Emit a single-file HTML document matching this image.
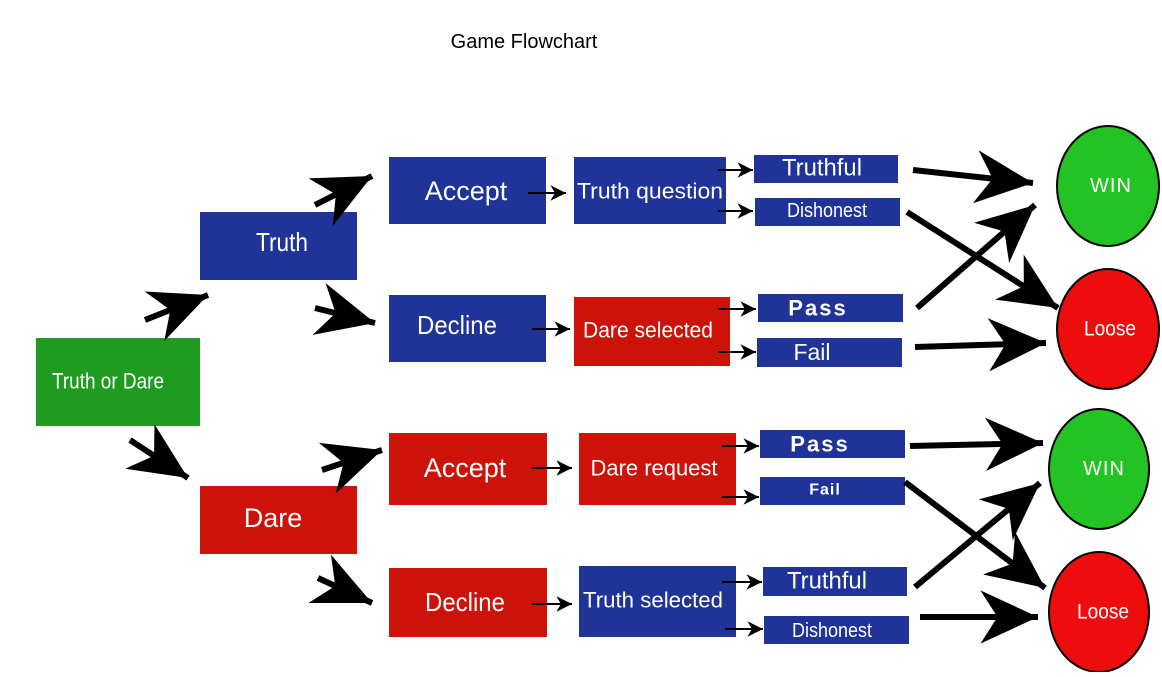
<!DOCTYPE html>
<html><head><meta charset="utf-8"><style>
body{margin:0;width:1162px;height:672px;background:#fff;overflow:hidden}
svg text{font-family:"Liberation Sans",sans-serif;fill:#fff;text-anchor:middle;dominant-baseline:central}
</style></head><body>
<svg width="1162" height="672" viewBox="0 0 1162 672" xmlns="http://www.w3.org/2000/svg">
<defs>
<marker id="b" markerUnits="userSpaceOnUse" markerWidth="64" markerHeight="64" refX="0" refY="0" viewBox="-56 -28 60 56" orient="auto"><path d="M0,0 L-54,-25 L-38,0 L-54,25 Z" fill="#000"/></marker>
<marker id="s" markerUnits="userSpaceOnUse" markerWidth="20" markerHeight="20" refX="0" refY="0" viewBox="-16 -8 18 16" orient="auto"><path d="M0,0 L-14,-7 L-10,0 L-14,7 Z" fill="#000"/></marker>
</defs>
<text x="524" y="42" style="fill:#000;font-size:20px">Game Flowchart</text>
<rect x="36" y="338" width="164" height="88" fill="#1f9c1f"/><text x="108" y="381" font-size="22" textLength="112" lengthAdjust="spacingAndGlyphs">Truth or Dare</text>
<rect x="200" y="212" width="157" height="68" fill="#1f3399"/><text x="282" y="242" font-size="26" textLength="52" lengthAdjust="spacingAndGlyphs">Truth</text>
<rect x="200" y="486" width="157" height="68" fill="#cc1209"/><text x="273" y="518" font-size="27">Dare</text>
<rect x="389" y="157" width="157" height="67" fill="#1f3399"/><text x="466" y="191" font-size="27">Accept</text>
<rect x="389" y="295" width="157" height="67" fill="#1f3399"/><text x="457" y="325" font-size="26" textLength="80" lengthAdjust="spacingAndGlyphs">Decline</text>
<rect x="389" y="433" width="158" height="72" fill="#cc1209"/><text x="465" y="468" font-size="27">Accept</text>
<rect x="389" y="568" width="158" height="69" fill="#cc1209"/><text x="465" y="602" font-size="26" textLength="80" lengthAdjust="spacingAndGlyphs">Decline</text>
<rect x="574" y="157" width="152" height="67" fill="#1f3399"/><text x="650" y="191" font-size="22" textLength="146" lengthAdjust="spacingAndGlyphs">Truth question</text>
<rect x="574" y="297" width="156" height="69" fill="#cc1209"/><text x="648" y="330" font-size="22" textLength="130" lengthAdjust="spacingAndGlyphs">Dare selected</text>
<rect x="579" y="433" width="157" height="72" fill="#cc1209"/><text x="654" y="468" font-size="22" textLength="127" lengthAdjust="spacingAndGlyphs">Dare request</text>
<rect x="579" y="566" width="157" height="71" fill="#1f3399"/><text x="653" y="600" font-size="22" textLength="140" lengthAdjust="spacingAndGlyphs">Truth selected</text>
<rect x="754" y="155" width="144" height="28" fill="#1f3399"/><text x="822" y="168" font-size="24" textLength="80" lengthAdjust="spacingAndGlyphs">Truthful</text>
<rect x="755" y="198" width="145" height="28" fill="#1f3399"/><text x="827" y="211" font-size="20" textLength="80" lengthAdjust="spacingAndGlyphs">Dishonest</text>
<rect x="758" y="294" width="145" height="28" fill="#1f3399"/><text x="818" y="308" font-size="22" font-weight="bold" letter-spacing="2">Pass</text>
<rect x="757" y="338" width="145" height="29" fill="#1f3399"/><text x="812" y="352" font-size="23">Fail</text>
<rect x="760" y="430" width="145" height="28" fill="#1f3399"/><text x="820" y="444" font-size="22" font-weight="bold" letter-spacing="2">Pass</text>
<rect x="760" y="477" width="145" height="28" fill="#1f3399"/><text x="825" y="490" font-size="16" font-weight="bold" letter-spacing="1">Fail</text>
<rect x="763" y="567" width="144" height="29" fill="#1f3399"/><text x="827" y="581" font-size="24" textLength="80" lengthAdjust="spacingAndGlyphs">Truthful</text>
<rect x="764" y="616" width="145" height="28" fill="#1f3399"/><text x="832" y="631" font-size="20" textLength="80" lengthAdjust="spacingAndGlyphs">Dishonest</text>
<ellipse cx="1108" cy="186" rx="51" ry="60" fill="#22c322" stroke="#000" stroke-width="2"/><text x="1111" y="186" font-size="20" letter-spacing="1">WIN</text>
<ellipse cx="1108" cy="329" rx="51" ry="60" fill="#ee0d0d" stroke="#000" stroke-width="2"/><text x="1110" y="329" font-size="21" textLength="52" lengthAdjust="spacingAndGlyphs">Loose</text>
<ellipse cx="1099" cy="469" rx="50" ry="60" fill="#22c322" stroke="#000" stroke-width="2"/><text x="1104" y="469" font-size="20" letter-spacing="1">WIN</text>
<ellipse cx="1099" cy="612" rx="50" ry="60" fill="#ee0d0d" stroke="#000" stroke-width="2"/><text x="1103" y="612" font-size="21" textLength="52" lengthAdjust="spacingAndGlyphs">Loose</text>
<g stroke="#000" stroke-width="6" fill="none">
<line x1="145" y1="320" x2="208" y2="295" marker-end="url(#b)"/>
<line x1="130" y1="440" x2="188" y2="478" marker-end="url(#b)"/>
<line x1="315" y1="205" x2="372" y2="176" marker-end="url(#b)"/>
<line x1="315" y1="308" x2="375" y2="323" marker-end="url(#b)"/>
<line x1="322" y1="470" x2="382" y2="450" marker-end="url(#b)"/>
<line x1="318" y1="578" x2="372" y2="603" marker-end="url(#b)"/>
<line x1="913" y1="170" x2="1033" y2="183" marker-end="url(#b)"/>
<line x1="907" y1="212" x2="1058" y2="308" marker-end="url(#b)"/>
<line x1="917" y1="308" x2="1035" y2="205" marker-end="url(#b)"/>
<line x1="915" y1="347" x2="1046" y2="343" marker-end="url(#b)"/>
<line x1="910" y1="446" x2="1043" y2="443" marker-end="url(#b)"/>
<line x1="905" y1="482" x2="1045" y2="588" marker-end="url(#b)"/>
<line x1="915" y1="587" x2="1040" y2="483" marker-end="url(#b)"/>
<line x1="920" y1="617" x2="1038" y2="617" marker-end="url(#b)"/>
</g>
<g stroke="#000" stroke-width="2">
<line x1="528" y1="193" x2="566" y2="193" marker-end="url(#s)"/>
<line x1="532" y1="329" x2="570" y2="329" marker-end="url(#s)"/>
<line x1="532" y1="468" x2="572" y2="468" marker-end="url(#s)"/>
<line x1="532" y1="604" x2="572" y2="604" marker-end="url(#s)"/>
<line x1="718" y1="170" x2="753" y2="170" marker-end="url(#s)"/>
<line x1="718" y1="211" x2="753" y2="211" marker-end="url(#s)"/>
<line x1="718" y1="309" x2="756" y2="309" marker-end="url(#s)"/>
<line x1="718" y1="352" x2="756" y2="352" marker-end="url(#s)"/>
<line x1="722" y1="446" x2="759" y2="446" marker-end="url(#s)"/>
<line x1="722" y1="497" x2="759" y2="497" marker-end="url(#s)"/>
<line x1="722" y1="582" x2="762" y2="582" marker-end="url(#s)"/>
<line x1="725" y1="629" x2="763" y2="629" marker-end="url(#s)"/>
</g>
</svg>
</body></html>
